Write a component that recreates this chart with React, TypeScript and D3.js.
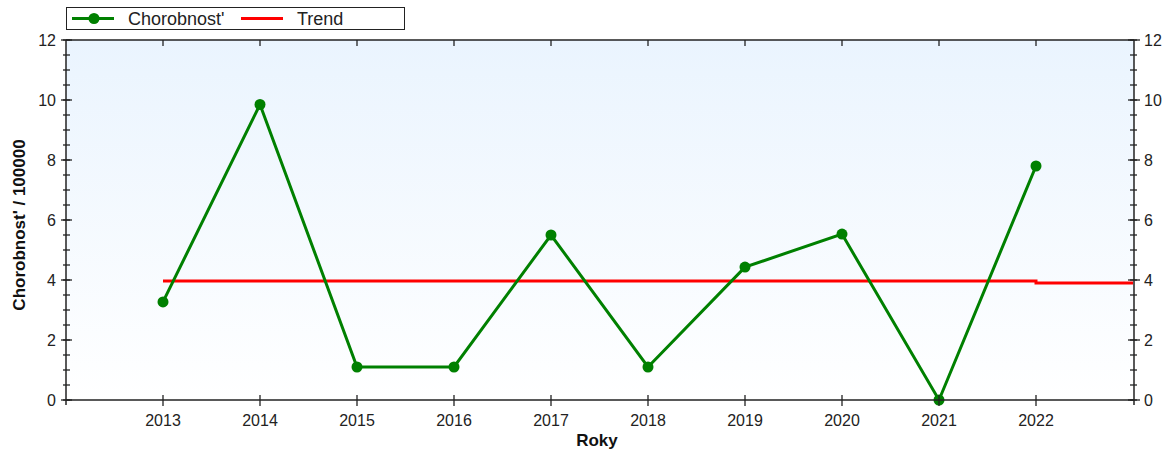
import React from "react";
import * as d3 from "d3";

const years = [2013, 2014, 2015, 2016, 2017, 2018, 2019, 2020, 2021, 2022];
const morbidity = [3.27, 9.85, 1.1, 1.1, 5.5, 1.1, 4.43, 5.53, 0, 7.8];
const trendYears = [2013, 2014, 2015, 2016, 2017, 2018, 2019, 2020, 2021, 2022, 2023];
const trendValues = [3.97, 3.97, 3.97, 3.97, 3.97, 3.97, 3.97, 3.97, 3.97, 3.9, 3.9];
const yTicks = [0, 2, 4, 6, 8, 10, 12];
const yMinor = d3.range(0, 12.01, 0.5);

const W = 1172, H = 456;
const L = 66, R = 1134, T = 40, B = 400;
const font = "Arial, 'Liberation Sans', sans-serif";

export default function App() {
  const x = d3.scaleLinear().domain([2012, 2023]).range([L, R - 1]);
  const y = d3.scaleLinear().domain([0, 12]).range([B, T]);
  const line = d3.line<number>().x((_, i) => x(years[i])).y((d) => y(d));
  const trend = d3.line<number>().x((_, i) => x(trendYears[i])).y((d) => y(d)).curve(d3.curveStepAfter);
  return (
    <svg width={W} height={H} style={{ position: "absolute", left: 0, top: 0 }} fontFamily={font}>
      <defs>
        <linearGradient id="bg" x1="0" y1="0" x2="0" y2="1">
          <stop offset="0" stopColor="#eaf4fe" />
          <stop offset="1" stopColor="#ffffff" />
        </linearGradient>
        <clipPath id="clip"><rect x={L} y={T} width={R - L} height={B - T} /></clipPath>
      </defs>
      <rect x={L} y={T} width={R - L} height={B - T} fill="url(#bg)" />
      {/* trend */}
      <path d={trend(trendValues) || ""} fill="none" stroke="#ff0000" strokeWidth={3} clipPath="url(#clip)" />
      {/* series */}
      <path d={line(morbidity) || ""} fill="none" stroke="#008000" strokeWidth={3} />
      {morbidity.map((v, i) => (
        <circle key={i} cx={x(years[i])} cy={y(v)} r={5.5} fill="#008000" />
      ))}
      {/* axes frame */}
      <line x1={L} x2={R} y1={T} y2={T} stroke="#222" strokeWidth={1.5} />
      <line x1={L} x2={R} y1={B} y2={B} stroke="#222" strokeWidth={1.5} />
      <line x1={L} x2={L} y1={T} y2={B + 5} stroke="#222" strokeWidth={1.5} />
      <line x1={R} x2={R} y1={T} y2={B + 5} stroke="#222" strokeWidth={1.5} />
      {/* y minor ticks */}
      {yMinor.map((v) => (
        <g key={v}>
          <line x1={L - 3} x2={L + 4} y1={y(v)} y2={y(v)} stroke="#222" strokeWidth={1.3} />
          <line x1={R - 4} x2={R + 3} y1={y(v)} y2={y(v)} stroke="#222" strokeWidth={1.3} />
        </g>
      ))}
      {yTicks.map((v) => (
        <g key={v}>
          <line x1={L - 5} x2={L + 6} y1={y(v)} y2={y(v)} stroke="#222" strokeWidth={1.3} />
          <line x1={R - 6} x2={R + 6} y1={y(v)} y2={y(v)} stroke="#222" strokeWidth={1.3} />
          <text x={L - 10} y={y(v)} dy="0.35em" textAnchor="end" fontSize={16} fill="#222">{v}</text>
          <text x={R + 10} y={y(v)} dy="0.35em" textAnchor="start" fontSize={16} fill="#222">{v}</text>
        </g>
      ))}
      {/* x ticks */}
      {years.map((yr) => (
        <g key={yr}>
          <line x1={x(yr)} x2={x(yr)} y1={B - 5} y2={B + 6} stroke="#222" strokeWidth={1.3} />
          <line x1={x(yr)} x2={x(yr)} y1={T} y2={T + 6} stroke="#222" strokeWidth={1.3} />
          <text x={x(yr)} y={B + 26} textAnchor="middle" fontSize={16} fill="#222">{yr}</text>
        </g>
      ))}
      {/* axis titles */}
      <text x={597} y={446} textAnchor="middle" fontSize={17} fontWeight="bold" fill="#111">Roky</text>
      <text transform={`translate(25, ${(T + B) / 2 + 5}) rotate(-90)`} textAnchor="middle" fontSize={17} fontWeight="bold" fill="#111">Chorobnost' / 100000</text>
      {/* legend */}
      <rect x={66.5} y={7.5} width={338} height={22} fill="#fff" stroke="#222" strokeWidth={1} />
      <line x1={72} x2={114} y1={18.5} y2={18.5} stroke="#008000" strokeWidth={3} />
      <circle cx={94} cy={18.5} r={5.5} fill="#008000" />
      <text x={128} y={25} fontSize={18} fill="#222">Chorobnost'</text>
      <line x1={241} x2={283} y1={18.5} y2={18.5} stroke="#ff0000" strokeWidth={3} />
      <text x={297} y={25} fontSize={18} fill="#222">Trend</text>
    </svg>
  );
}
